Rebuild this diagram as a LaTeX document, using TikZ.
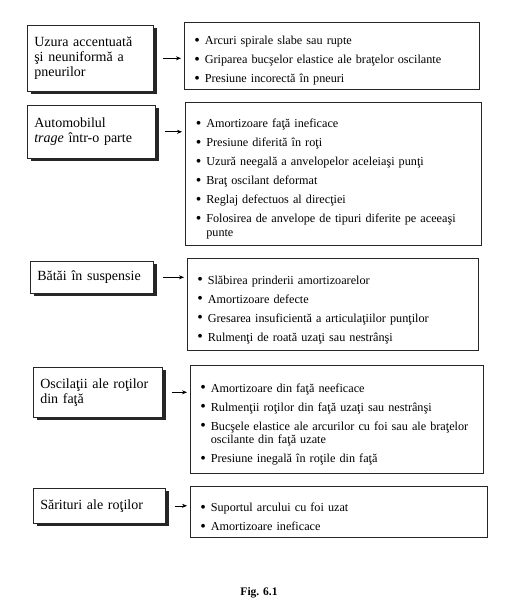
\documentclass[tikz,border=0pt]{standalone}
\usepackage{fontspec}
\setmainfont{Liberation Serif}
\usepackage{tikz}
\usetikzlibrary{arrows.meta,shadows}
\newcommand{\cauza}[1]{\par\hangindent=10.5pt\hangafter=1\noindent\makebox[10.5pt][l]{\raisebox{-0.12ex}{\scalebox{1.3}{\textbullet}}}#1\par}

\begin{document}
\begin{tikzpicture}[x=1pt, y=-1pt,
    simptom/.style={draw=black!85, line width=0.6pt, fill=white, anchor=north west,
      inner xsep=7pt, align=left, font=\fontsize{14}{15}\selectfont,
      drop shadow={shadow xshift=4pt, shadow yshift=-3pt, opacity=1, fill=black!85}},
    cauze/.style={draw=black!85, line width=0.6pt, anchor=north west,
      inner xsep=10pt, font=\fontsize{12.2}{13.5}\selectfont,
      execute at begin node={\fontsize{12.2}{13.5}\selectfont\setlength{\parskip}{5.5pt}\hfuzz=20pt\raggedright}},
    sageata/.style={-{Stealth[length=5pt,width=4pt]}, line width=0.6pt, shorten >=3pt}]
  \useasboundingbox (0,0) rectangle (504,612);
  % Uzura pneurilor
  \node[simptom, text width=112pt, minimum width=126pt, minimum height=66pt] (s1) at (27,25)
    {Uzura accentuată\\ şi neuniformă a\\ pneurilor};
  \node[cauze, text width=275pt, minimum width=295pt, minimum height=67pt] (c1) at (184,22)
    {\cauza{Arcuri spirale slabe sau rupte}
     \cauza{Griparea bucşelor elastice ale braţelor oscilante}
     \cauza{Presiune incorectă în pneuri}};
  % Automobilul trage
  \node[simptom, text width=114pt, minimum width=128pt, minimum height=53pt] (s2) at (27,105)
    {Automobilul\\ \textit{trage} într-o parte};
  \node[cauze, text width=275pt, minimum width=296pt, minimum height=143pt] (c2) at (185,102)
    {\cauza{Amortizoare faţă ineficace}
     \cauza{Presiune diferită în roţi}
     \cauza{Uzură neegală a anvelopelor aceleiaşi punţi}
     \cauza{Braţ oscilant deformat}
     \cauza{Reglaj defectuos al direcţiei}
     \cauza{\mbox{Folosirea de anvelope de tipuri diferite pe\ aceeaşi}\newline punte}};
  % Batai in suspensie
  \node[simptom, text width=109pt, minimum width=123pt, minimum height=32pt] (s3) at (30,261)
    {Bătăi în suspensie};
  \node[cauze, text width=271pt, minimum width=291pt, minimum height=92pt] (c3) at (187,258)
    {\cauza{Slăbirea prinderii amortizoarelor}
     \cauza{Amortizoare defecte}
     \cauza{Gresarea insuficientă a articulaţiilor punţilor}
     \cauza{Rulmenţi de roată uzaţi sau nestrânşi}};
  % Oscilatii ale rotilor
  \node[simptom, text width=115pt, minimum width=129pt, minimum height=50pt] (s4) at (33,367)
    {Oscilaţii ale roţilor\\ din faţă};
  \node[cauze, text width=273pt, minimum width=293pt, minimum height=108pt] (c4) at (190,365)
    {\cauza{Amortizoare din faţă neeficace}
     \cauza{Rulmenţii roţilor din faţă uzaţi sau nestrânşi}
     \cauza{\mbox{Bucşele elastice ale arcurilor cu foi sau ale braţelor}\newline oscilante din faţă uzate}
     \cauza{Presiune inegală în roţile din faţă}};
  % Sarituri ale rotilor
  \node[simptom, text width=118pt, minimum width=132pt, minimum height=35pt] (s5) at (33,488)
    {Sărituri ale roţilor};
  \node[cauze, text width=277pt, minimum width=297pt, minimum height=51pt] (c5) at (190,486)
    {\cauza{Suportul arcului cu foi uzat}
     \cauza{Amortizoare ineficace}};
  % sageti
  \foreach \i in {1,...,5}
    \draw[sageata] ([xshift=9pt]s\i.east) -- (s\i.east -| c\i.west);
  \node[font=\fontsize{11.5}{13}\selectfont\bfseries] (fig) at (259,593) {Fig. 6.1};
\end{tikzpicture}
\end{document}
